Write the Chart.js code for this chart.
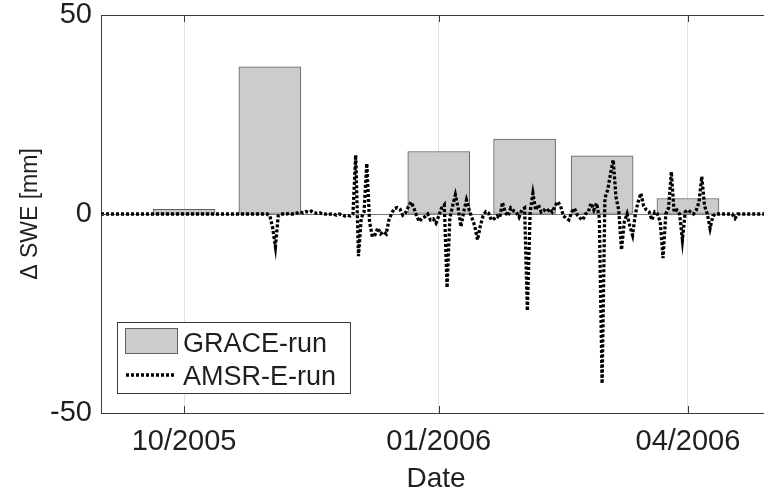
<!DOCTYPE html>
<html>
<head>
<meta charset="utf-8">
<title>SWE change</title>
<script src="https://cdn.jsdelivr.net/npm/chart.js@4.4.0/dist/chart.umd.min.js"></script>
<style>
  html, body { margin: 0; padding: 0; background: #fff; }
  #wrap { width: 764px; height: 495px; overflow: hidden; }
  canvas { display: block; }
</style>
</head>
<body>
<div id="wrap"><canvas id="swe" width="776" height="495"></canvas></div>
<script>
// x values are days since 1 Sep 2005
const xMin = 0;     // 01/09/2005
const xMax = 242;   // 01/05/2006
const tickDays = [30, 122, 212];
const tickLabels = ['10/2005', '01/2006', '04/2006'];
const yTicks = [-50, 0, 50];

// GRACE monthly change (mm), bar centred on the first of the month
const graceDays = [30, 61, 122, 153, 181, 212];
const graceValues = [1.2, 37.0, 15.7, 18.8, 14.6, 3.9];

// AMSR-E daily change (mm), one value per day starting 01/09/2005
const amsrSep = [
  0, 0, 0, 0, 0, 0, 0, 0, 0, 0,
  0, 0, 0, 0, 0, 0, 0, 0, 0, 0,
  0, 0, 0, 0, 0, 0, 0, 0, 0, 0
];
const amsrOct = [
  0, 0, 0, 0, 0, 0, 0, 0, 0, 0,
  0, 0, 0, 0, 0, 0, 0, 0, 0, 0,
  0, 0, 0, 0, 0, 0, 0, 0, 0, 0, 0
];
const amsrNov = [
  -0.5, -3.5, -8.2, -0.5, 0, 0, 0, 0.2, 0, 0,
  0.3, 0.5, 0.3, 0.6, 0.4, 0.7, 0.3, 0.2, 0.3, 0,
  0, -0.2, 0, 0, -0.3, 0, -0.2, -0.5, -0.3, -0.5
];
const amsrDec = [
  0, 14.8, -10.6, -1, 0.5, 12.7, -2, -5.7, -5.2, -3.5,
  -5, -4.4, -5, -1.5, 0.2, 1.4, 1.6, 1.2, -0.3, 0.3,
  1.8, 3, 1.5, -0.5, -1.9, -1, -0.7, 0, -1.5, -1.2, -2.3
];
const amsrJan = [
  -0.5, 1.5, 2.3, -18.5, -1, 2, 4.8, 1.5, -3.2, 0.5,
  3.5, 1, -1, -3, -6.5, -3, -0.5, 0.6, 0.2, -1.5,
  -1.2, -0.5, -1, 2.9, 0.5, -0.5, 1.5, 0.8, 0.5, -0.8, 1
];
const amsrFeb = [
  1.5, -24.3, 0.5, 5.2, 1, 2.3, 0.5, 1, 0.5, 1.3,
  0.5, 2, 3.1, 2, -0.5, -1, -1.5, 0.5, 1.4, -0.2,
  -1, -1.5, 0, 0.5, 2.7, 1, 2.7, -1
];
const amsrMar = [
  -42.6, 4, 6, 10, 13.6, 4.3, 1, -9, -2, 0,
  -3, -5.3, 0, 3, 5.2, 2, 1, 0.5, -1.5, 0.5,
  0, -2, -11.1, 0, 1.5, 10.6, 0.5, 1, 0, -6.5, 0.5
];
const amsrApr = [
  1, 0.5, 0, 1, 3, 9.4, 2, 0, -3.6, -0.5,
  0, 0, 0, 0, 0, 0, 0, -1.1, 0, 0,
  0, 0, 0, 0, 0, 0, 0, 0, 0, 0
];

const amsrValues = [].concat(amsrSep, amsrOct, amsrNov, amsrDec, amsrJan, amsrFeb, amsrMar, amsrApr);

const textColor = '#1f1f1f';
const axisColor = '#3a3a3a';
const fontFamily = '"Liberation Sans", Arial, sans-serif';

Chart.defaults.font.family = fontFamily;
Chart.defaults.color = textColor;

// top edge of the box plus inward tick marks
const axesFrame = {
  id: 'axesFrame',
  afterDraw(chart) {
    const { ctx, chartArea: a, scales: { x, y } } = chart;
    const len = 7;
    ctx.save();
    ctx.strokeStyle = axisColor;
    ctx.lineWidth = 1;
    ctx.beginPath();
    ctx.moveTo(a.left, a.top + 0.5);
    ctx.lineTo(a.right, a.top + 0.5);
    x.ticks.forEach(t => {
      const px = Math.round(x.getPixelForValue(t.value)) + 0.5;
      ctx.moveTo(px, a.bottom);
      ctx.lineTo(px, a.bottom - len);
      ctx.moveTo(px, a.top);
      ctx.lineTo(px, a.top + len);
    });
    y.ticks.forEach(t => {
      const py = Math.round(y.getPixelForValue(t.value)) + 0.5;
      ctx.moveTo(a.left, py);
      ctx.lineTo(a.left + len, py);
    });
    ctx.stroke();
    ctx.restore();
  }
};

// boxed legend in the lower left corner of the plot
const boxLegend = {
  id: 'boxLegend',
  afterDraw(chart) {
    const { ctx, chartArea: a } = chart;
    const [bars, line] = chart.data.datasets;
    const left = a.left + 16;
    const top = a.bottom - 91;
    ctx.save();
    ctx.fillStyle = '#ffffff';
    ctx.fillRect(left, top, 234, 72);
    ctx.strokeStyle = axisColor;
    ctx.lineWidth = 1;
    ctx.strokeRect(left + 0.5, top + 0.5, 233, 71);

    ctx.fillStyle = bars.backgroundColor;
    ctx.fillRect(left + 8, top + 6, 53, 26);
    ctx.strokeStyle = bars.borderColor;
    ctx.strokeRect(left + 8.5, top + 6.5, 52, 25);

    ctx.strokeStyle = line.borderColor;
    ctx.lineWidth = line.borderWidth;
    ctx.setLineDash(line.borderDash);
    ctx.beginPath();
    ctx.moveTo(left + 9, top + 53);
    ctx.lineTo(left + 58, top + 53);
    ctx.stroke();
    ctx.setLineDash([]);

    ctx.fillStyle = textColor;
    ctx.font = '27px ' + fontFamily;
    ctx.textBaseline = 'alphabetic';
    ctx.fillText(bars.label, left + 66, top + 30);
    ctx.fillText(line.label, left + 66, top + 63);
    ctx.restore();
  }
};

new Chart(document.getElementById('swe'), {
  type: 'bar',
  data: {
    datasets: [
      {
        type: 'bar',
        label: 'GRACE-run',
        data: graceDays.map((d, i) => ({ x: d, y: graceValues[i] })),
        backgroundColor: '#cccccc',
        borderColor: '#606060',
        borderWidth: 1,
        borderSkipped: false,
        barThickness: 62,
        order: 2
      },
      {
        type: 'line',
        label: 'AMSR-E-run',
        data: amsrValues.map((v, i) => ({ x: xMin + i, y: v })),
        borderColor: '#000000',
        borderWidth: 3.3,
        borderDash: [3, 2],
        borderCapStyle: 'butt',
        pointRadius: 0,
        tension: 0,
        fill: false,
        order: 1
      }
    ]
  },
  options: {
    responsive: false,
    animation: false,
    devicePixelRatio: 1,
    layout: { padding: { left: 0, top: 15, right: 5, bottom: 0 } },
    plugins: {
      legend: { display: false },
      tooltip: { enabled: false }
    },
    scales: {
      x: {
        type: 'linear',
        min: xMin,
        max: xMax,
        offset: false,
        afterBuildTicks: s => { s.ticks = tickDays.map(v => ({ value: v })); },
        afterFit: s => { s.height = 82; s.paddingLeft = 0; s.paddingRight = 0; },
        ticks: {
          autoSkip: false,
          maxRotation: 0,
          padding: 12,
          font: { size: 29 },
          color: textColor,
          callback: v => tickLabels[tickDays.indexOf(v)]
        },
        grid: { color: '#e2e2e2', lineWidth: 1, drawTicks: false, offset: false },
        border: { display: true, color: axisColor, width: 1 },
        title: {
          display: true,
          text: 'Date',
          font: { size: 28, lineHeight: 1.1 },
          color: textColor,
          padding: { top: 0, bottom: 0 }
        }
      },
      y: {
        min: -50,
        max: 50,
        afterBuildTicks: s => { s.ticks = yTicks.map(v => ({ value: v })); },
        afterFit: s => { s.width = 101; s.paddingTop = 0; s.paddingBottom = 0; },
        ticks: {
          padding: 9,
          font: { size: 29 },
          color: textColor
        },
        grid: {
          drawTicks: false,
          lineWidth: 1,
          color: c => (c.tick && c.tick.value === 0 ? '#7a7a7a' : 'rgba(0,0,0,0)')
        },
        border: { display: true, color: axisColor, width: 1 },
        title: {
          display: true,
          text: 'Δ SWE [mm]',
          font: { size: 23 },
          color: textColor,
          padding: { top: 17, bottom: 0 }
        }
      }
    }
  },
  plugins: [axesFrame, boxLegend]
});
</script>
</body>
</html>
